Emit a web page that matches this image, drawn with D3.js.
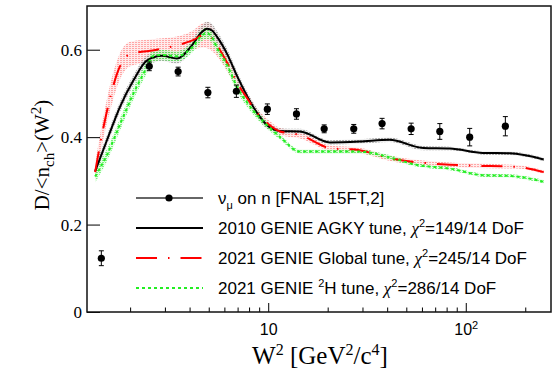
<!DOCTYPE html>
<html>
<head>
<meta charset="utf-8">
<script src="https://cdn.jsdelivr.net/npm/d3@7"></script>
<style>
  body { margin: 0; background: #fff; }
</style>
</head>
<body>
<svg id="chart"></svg>
<script>
// FNAL 15FT nu_mu on n data
const dataW2 = [1.43, 2.5, 3.5, 4.95, 6.9, 9.9, 13.9, 19.2, 27.1, 37.7, 52.9, 73.9, 104.7, 158.6]
const dataD = [0.123, 0.562, 0.550, 0.502, 0.505, 0.464, 0.453, 0.419, 0.419, 0.431, 0.419, 0.413, 0.400, 0.425]
const dataErr = [0.017, 0.01, 0.01, 0.012, 0.014, 0.012, 0.012, 0.009, 0.01, 0.012, 0.013, 0.018, 0.02, 0.022]

// 2010 GENIE AGKY tune
const agkyW2 = [1.33, 1.53, 1.78, 2.08, 2.43, 2.9, 3.45, 4.11, 4.6, 4.9, 5.2, 5.5, 6.2, 6.95, 7.8, 8.8, 10, 11.5, 14.5, 20.5, 29, 41, 61, 83, 122, 167, 248]
const agkyD = [0.322, 0.394, 0.47, 0.53, 0.575, 0.586, 0.58, 0.61, 0.64, 0.648, 0.644, 0.63, 0.59, 0.54, 0.495, 0.455, 0.425, 0.414, 0.413, 0.388, 0.39, 0.394, 0.375, 0.374, 0.364, 0.363, 0.349]
const agkyErr = [0.012, 0.012, 0.012, 0.012, 0.012, 0.012, 0.012, 0.013, 0.015, 0.016, 0.015, 0.013, 0.012, 0.011, 0.01, 0.01, 0.008, 0.006, 0.006, 0.005, 0.005, 0.005, 0.005, 0.004, 0.004, 0.004, 0.004]

// 2021 GENIE Global tune
const globalW2 = [1.33, 1.47, 1.59, 1.75, 2.0, 2.73, 3.58, 4.17, 4.7, 5.0, 5.5, 6.2, 6.95, 7.8, 8.8, 10, 11.5, 14.5, 20.5, 29, 41, 83, 104, 180, 248]
const globalD = [0.32, 0.425, 0.493, 0.555, 0.59, 0.60, 0.612, 0.622, 0.633, 0.632, 0.61, 0.57, 0.525, 0.49, 0.455, 0.43, 0.413, 0.405, 0.375, 0.37, 0.352, 0.337, 0.335, 0.332, 0.32]
const globalErr = [0.02, 0.025, 0.03, 0.03, 0.028, 0.025, 0.02, 0.022, 0.028, 0.03, 0.025, 0.02, 0.015, 0.012, 0.01, 0.01, 0.008, 0.008, 0.006, 0.006, 0.006, 0.005, 0.005, 0.004, 0.004]

// 2021 GENIE 2H tune
const d2W2 = [1.33, 1.53, 1.78, 2.08, 2.43, 2.6, 2.9, 3.45, 4.11, 4.6, 4.85, 5.2, 5.5, 6.2, 6.95, 7.8, 8.8, 10, 11.5, 14.5, 20.5, 29, 41, 56, 83, 122, 170, 248]
const d2D = [0.31, 0.36, 0.43, 0.50, 0.56, 0.585, 0.588, 0.585, 0.605, 0.632, 0.638, 0.628, 0.605, 0.565, 0.515, 0.48, 0.45, 0.425, 0.40, 0.367, 0.367, 0.367, 0.354, 0.337, 0.328, 0.313, 0.311, 0.298]
const d2Err = [0.014, 0.014, 0.014, 0.014, 0.014, 0.013, 0.012, 0.012, 0.012, 0.013, 0.013, 0.013, 0.012, 0.012, 0.011, 0.01, 0.009, 0.008, 0.006, 0.005, 0.005, 0.005, 0.005, 0.004, 0.004, 0.004, 0.004, 0.004]

const xTicks = [10, 100]
const xMinor = [2, 3, 4, 5, 6, 7, 8, 9, 20, 30, 40, 50, 60, 70, 80, 90, 200]
const yTicks = [0, 0.2, 0.4, 0.6]

const width = 552, height = 378
const svg = d3.select("#chart").attr("width", width).attr("height", height)
  .style("font-family", "'Liberation Serif', 'Times New Roman', serif")

const x = d3.scaleLog().domain([1.21, 270]).range([87, 551])
const y = d3.scaleLinear().domain([0, 0.7]).range([312, 6])

// hatch patterns for the bands
const defs = svg.append("defs")
function hatch(id, bg, fg) {
  const p = defs.append("pattern").attr("id", id).attr("width", 3).attr("height", 2).attr("patternUnits", "userSpaceOnUse")
  p.append("rect").attr("width", 3).attr("height", 2).attr("fill", bg)
  p.append("rect").attr("width", 2).attr("height", 1).attr("fill", fg)
}
hatch("hRed", "rgba(255,200,200,0.35)", "rgba(255,120,120,0.6)")
hatch("hBlack", "rgba(200,200,200,0.3)", "rgba(120,120,120,0.55)")
hatch("hGreen", "rgba(180,255,180,0.35)", "rgba(60,230,60,0.6)")

const plot = svg.append("g")

function band(xs, ys, es, fill) {
  const pts = xs.map((w, i) => ({ w: w, d: ys[i], e: es[i] }))
  const area = d3.area().x(d => x(d.w)).y0(d => y(d.d - d.e)).y1(d => y(d.d + d.e)).curve(d3.curveMonotoneX)
  plot.append("path").attr("d", area(pts)).attr("fill", fill)
}
function curve(xs, ys, color, dash, sw) {
  const pts = xs.map((w, i) => ({ w: w, d: ys[i] }))
  const line = d3.line().x(d => x(d.w)).y(d => y(d.d)).curve(d3.curveMonotoneX)
  plot.append("path").attr("d", line(pts)).attr("fill", "none").attr("stroke", color)
    .attr("stroke-width", sw).attr("stroke-dasharray", dash)
}

band(globalW2, globalD, globalErr, "url(#hRed)")
band(agkyW2, agkyD, agkyErr, "url(#hBlack)")
band(d2W2, d2D, d2Err, "url(#hGreen)")
curve(agkyW2, agkyD, "#000", null, 2)
curve(globalW2, globalD, "#ff0000", "21,11,1.5,11", 2)
curve(d2W2, d2D, "#22ee22", "3,3", 2)

// data points
const pts = dataW2.map((w, i) => ({ w: w, d: dataD[i], e: dataErr[i] }))
plot.selectAll(".ebar").data(pts).join("line").attr("class", "ebar")
  .attr("x1", d => x(d.w)).attr("x2", d => x(d.w)).attr("y1", d => y(d.d - d.e)).attr("y2", d => y(d.d + d.e))
  .attr("stroke", "#000").attr("stroke-width", 1)
plot.selectAll(".ecapL").data(pts).join("line").attr("class", "ecapL")
  .attr("x1", d => x(d.w) - 2.5).attr("x2", d => x(d.w) + 2.5).attr("y1", d => y(d.d - d.e)).attr("y2", d => y(d.d - d.e))
  .attr("stroke", "#000").attr("stroke-width", 1)
plot.selectAll(".ecapH").data(pts).join("line").attr("class", "ecapH")
  .attr("x1", d => x(d.w) - 2.5).attr("x2", d => x(d.w) + 2.5).attr("y1", d => y(d.d + d.e)).attr("y2", d => y(d.d + d.e))
  .attr("stroke", "#000").attr("stroke-width", 1)
plot.selectAll(".dot").data(pts).join("circle").attr("class", "dot")
  .attr("cx", d => x(d.w)).attr("cy", d => y(d.d)).attr("r", 3.6).attr("fill", "#000")

// axes
svg.append("g").attr("transform", "translate(0,312)")
  .call(d3.axisBottom(x).tickValues(xMinor).tickSize(-4.5).tickFormat(""))
  .call(g => g.select(".domain").remove())
svg.append("g").attr("class", "xaxis").attr("transform", "translate(0,312)")
  .call(d3.axisBottom(x).tickValues(xTicks).tickSize(-9).tickPadding(13).tickFormat(""))
  .call(g => g.select(".domain").remove())
svg.select(".xaxis").selectAll(".tick").each(function (d) {
  const t = d3.select(this).append("text").attr("fill", "#000").attr("y", 23).attr("text-anchor", "middle")
    .style("font-size", "16px")
  const e = Math.round(Math.log10(d))
  if (e === 1) t.text("10")
  else { t.append("tspan").text("10"); t.append("tspan").attr("dy", -6).style("font-size", "11px").text(e) }
})
svg.append("g").attr("transform", "translate(87,0)")
  .call(d3.axisLeft(y).tickValues(yTicks).tickSize(-13).tickPadding(5).tickFormat(d => d === 0 ? "0" : d3.format(".1f")(d)))
  .call(g => g.select(".domain").remove())
  .call(g => g.selectAll("text").style("font-size", "17px").style("font-family", "'Liberation Serif', serif"))
svg.selectAll(".tick line").attr("stroke", "#000").attr("stroke-width", 1)

svg.append("rect").attr("x", 87).attr("y", 6).attr("width", 464).attr("height", 306)
  .attr("fill", "none").attr("stroke", "#111").attr("stroke-width", 1.5)

// axis titles
const xt = svg.append("text").attr("x", 320).attr("y", 364).attr("text-anchor", "middle").style("font-size", "25px")
xt.append("tspan").text("W")
xt.append("tspan").attr("dy", -9).style("font-size", "16px").text("2")
xt.append("tspan").attr("dy", 9).text(" [GeV")
xt.append("tspan").attr("dy", -9).style("font-size", "16px").text("2")
xt.append("tspan").attr("dy", 9).text("/c")
xt.append("tspan").attr("dy", -9).style("font-size", "16px").text("4")
xt.append("tspan").attr("dy", 9).text("]")

const yt = svg.append("text").attr("transform", "translate(49,155) rotate(-90)").attr("text-anchor", "middle").style("font-size", "21px")
yt.append("tspan").text("D/<n")
yt.append("tspan").attr("dy", 5).style("font-size", "15px").text("ch")
yt.append("tspan").attr("dy", -5).text(">(W")
yt.append("tspan").attr("dy", -8).style("font-size", "15px").text("2")
yt.append("tspan").attr("dy", 8).text(")")

// legend
const legY = [198, 228, 258, 288]
const lg = svg.append("g").style("font-family", "'Liberation Sans', Arial, sans-serif").style("font-size", "17px")
lg.append("line").attr("x1", 136).attr("x2", 203).attr("y1", legY[0]).attr("y2", legY[0]).attr("stroke", "#666").attr("stroke-width", 2)
lg.append("circle").attr("cx", 169).attr("cy", legY[0]).attr("r", 3.6).attr("fill", "#000")
lg.append("line").attr("x1", 136).attr("x2", 203).attr("y1", legY[1]).attr("y2", legY[1]).attr("stroke", "#000").attr("stroke-width", 2)
lg.append("line").attr("x1", 136).attr("x2", 203).attr("y1", legY[2]).attr("y2", legY[2]).attr("stroke", "#ff0000").attr("stroke-width", 2).attr("stroke-dasharray", "21,11,1.5,11")
lg.append("line").attr("x1", 136).attr("x2", 203).attr("y1", legY[3]).attr("y2", legY[3]).attr("stroke", "#22ee22").attr("stroke-width", 2).attr("stroke-dasharray", "3,3")

function chi(t, before, val) {
  t.append("tspan").text(before)
  t.append("tspan").style("font-family", "'Liberation Serif', serif").style("font-style", "italic").text("χ")
  t.append("tspan").attr("dy", -7).style("font-size", "11px").text("2")
  t.append("tspan").attr("dy", 7).text("=" + val + "/14 DoF")
}
const t0 = lg.append("text").attr("x", 218).attr("y", legY[0] + 6)
t0.append("tspan").text("ν")
t0.append("tspan").attr("dy", 5).style("font-size", "11px").text("μ")
t0.append("tspan").attr("dy", -5).text(" on n [FNAL 15FT,2]")
chi(lg.append("text").attr("x", 218).attr("y", legY[1] + 6), "2010 GENIE AGKY tune, ", "149")
chi(lg.append("text").attr("x", 218).attr("y", legY[2] + 6), "2021 GENIE Global tune, ", "245")
const t3 = lg.append("text").attr("x", 218).attr("y", legY[3] + 6)
t3.append("tspan").text("2021 GENIE ")
t3.append("tspan").attr("dy", -7).style("font-size", "11px").text("2")
t3.append("tspan").attr("dy", 7).text("H tune, ")
chi(t3, "", "286")
</script>
</body>
</html>
